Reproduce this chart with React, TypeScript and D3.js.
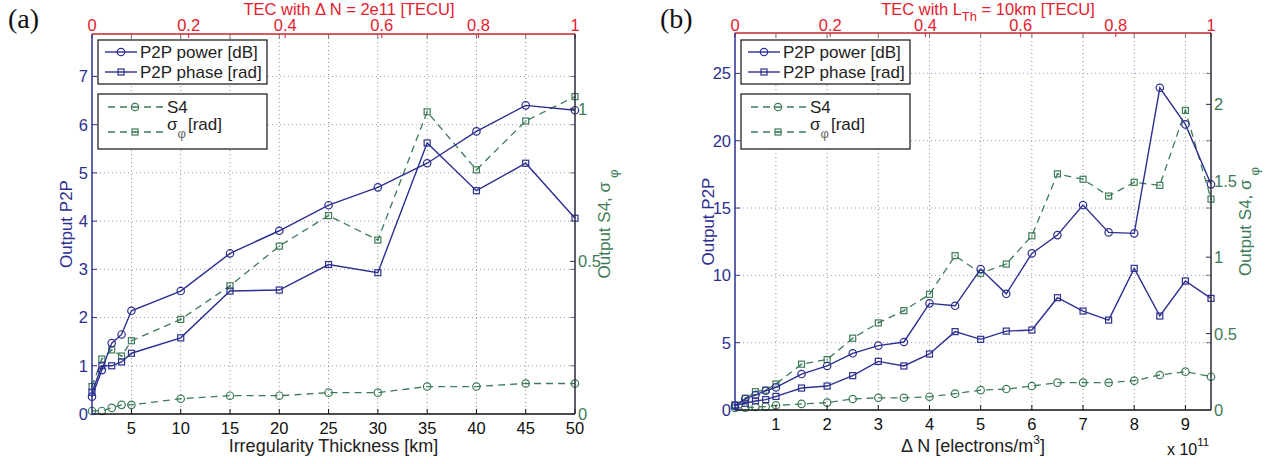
import React from 'react';
import * as d3 from 'd3';

const BLUE = '#2c2f8f';
const GREEN = '#3e7b58';
const RED = '#e5202e';
const RED_AXIS = '#c1272d';
const SANS = '"Liberation Sans", Arial, Helvetica, sans-serif';
const SERIF = '"Liberation Serif", "Times New Roman", serif';

// Panel (a): output versus irregularity thickness [km]
const thicknessKm = [1, 2, 3, 4, 5, 10, 15, 20, 25, 30, 35, 40, 45, 50];
const powerA = [0.36, 0.91, 1.47, 1.65, 2.14, 2.55, 3.33, 3.8, 4.33, 4.7, 5.2, 5.86, 6.4, 6.3];
const phaseA = [0.45, 1.0, 1.0, 1.08, 1.26, 1.58, 2.55, 2.57, 3.1, 2.93, 5.62, 4.63, 5.2, 4.06];
const s4A = [0.01, 0.01, 0.02, 0.03, 0.03, 0.05, 0.06, 0.06, 0.07, 0.07, 0.09, 0.09, 0.1, 0.1];
const sigmaA = [0.09, 0.18, 0.21, 0.19, 0.24, 0.31, 0.42, 0.55, 0.65, 0.57, 0.99, 0.8, 0.96, 1.04];
const xTicksA = [5, 10, 15, 20, 25, 30, 35, 40, 45, 50];
const yTicksA = [0, 1, 2, 3, 4, 5, 6, 7];
const y2TicksA = [0, 0.5, 1];

// Panel (b): output versus electron density perturbation [x 1e11 electrons/m^3]
const deltaN = [0.2, 0.4, 0.6, 0.8, 1, 1.5, 2, 2.5, 3, 3.5, 4, 4.5, 5, 5.5, 6, 6.5, 7, 7.5, 8, 8.5, 9, 9.5];
const powerB = [0.3, 0.82, 1.11, 1.43, 1.68, 2.67, 3.27, 4.21, 4.78, 5.05, 7.92, 7.74, 10.47, 8.63, 11.63, 12.99, 15.22, 13.19, 13.12, 23.93, 21.21, 16.76];
const phaseB = [0.37, 0.5, 0.67, 0.77, 1.01, 1.63, 1.78, 2.55, 3.61, 3.27, 4.16, 5.82, 5.25, 5.86, 5.94, 8.34, 7.35, 6.68, 10.52, 6.98, 9.58, 8.29];
const s4B = [0.013, 0.015, 0.02, 0.022, 0.03, 0.04, 0.048, 0.072, 0.08, 0.08, 0.087, 0.107, 0.13, 0.137, 0.157, 0.179, 0.179, 0.179, 0.192, 0.229, 0.251, 0.218];
const sigmaB = [0.03, 0.077, 0.12, 0.13, 0.17, 0.3, 0.33, 0.47, 0.57, 0.65, 0.757, 1.01, 0.895, 0.955, 1.14, 1.545, 1.51, 1.4, 1.49, 1.47, 1.96, 1.38];
const xTicksB = [1, 2, 3, 4, 5, 6, 7, 8, 9];
const yTicksB = [0, 5, 10, 15, 20, 25];
const y2TicksB = [0, 0.5, 1, 1.5, 2];

// Shared top (TEC) axis ticks
const tecTicks = [0, 0.2, 0.4, 0.6, 0.8, 1];

type PanelSpec = {
  tag: string;
  tagX: number;
  left: number;
  right: number;
  top: number;
  bottom: number;
  xDomain: [number, number];
  yDomain: [number, number];
  y2Domain: [number, number];
  xTicks: number[];
  yTicks: number[];
  y2Ticks: number[];
  xs: number[];
  power: number[];
  phase: number[];
  s4: number[];
  sigma: number[];
  yLabelX: number;
  y2LabelX: number;
  yLabelRightGap: number;
  topTitle: React.ReactNode;
  titleX: number;
  xTitle: React.ReactNode;
  exponent?: boolean;
};

function CircleMark({ cx, cy, color }: { cx: number; cy: number; color: string }) {
  return <circle cx={cx} cy={cy} r={3.7} fill="none" stroke={color} strokeWidth={1.2} />;
}

function SquareMark({ cx, cy, color, textured }: { cx: number; cy: number; color: string; textured?: boolean }) {
  const s = 6;
  return (
    <g>
      <rect x={cx - s / 2} y={cy - s / 2} width={s} height={s} fill="none" stroke={color} strokeWidth={1.2} />
      {textured && <rect x={cx - 1} y={cy - 1} width={2} height={2} fill={color} opacity={0.6} />}
    </g>
  );
}

function ChartPanel({ p }: { p: PanelSpec }) {
  const x = d3.scaleLinear().domain(p.xDomain).range([p.left, p.right]);
  const xTop = d3.scaleLinear().domain([0, 1]).range([p.left, p.right]);
  const y = d3.scaleLinear().domain(p.yDomain).range([p.bottom, p.top]);
  const y2 = d3.scaleLinear().domain(p.y2Domain).range([p.bottom, p.top]);

  const lineL = d3
    .line<number>()
    .x((_, i) => x(p.xs[i]))
    .y((d) => y(d));
  const lineR = d3
    .line<number>()
    .x((_, i) => x(p.xs[i]))
    .y((d) => y2(d));

  const tick = 5;
  const midY = (p.top + p.bottom) / 2;
  const L = p.left;

  return (
    <g fontFamily={SANS}>
      <text x={p.tagX} y={28} fontFamily={SERIF} fontSize={28} fill="#111">
        {p.tag}
      </text>

      {/* dotted grid */}
      {p.xTicks
        .filter((t) => x(t) > p.left + 1 && x(t) < p.right - 1)
        .map((t) => (
          <line key={'gx' + t} x1={x(t)} x2={x(t)} y1={p.top} y2={p.bottom} stroke="#8a8a8a" strokeWidth={1} strokeDasharray="1,3" />
        ))}
      {p.yTicks
        .filter((t) => y(t) < p.bottom - 1 && y(t) > p.top + 1)
        .map((t) => (
          <line key={'gy' + t} x1={p.left} x2={p.right} y1={y(t)} y2={y(t)} stroke="#9c9cd6" strokeWidth={1} strokeDasharray="1,3" />
        ))}

      {/* right-axis series */}
      <path d={lineR(p.s4) || ''} fill="none" stroke={GREEN} strokeWidth={1.3} strokeDasharray="7,5" />
      <path d={lineR(p.sigma) || ''} fill="none" stroke={GREEN} strokeWidth={1.3} strokeDasharray="7,5" />
      {p.s4.map((v, i) => (
        <CircleMark key={'s4' + i} cx={x(p.xs[i])} cy={y2(v)} color={GREEN} />
      ))}
      {p.sigma.map((v, i) => (
        <SquareMark key={'sg' + i} cx={x(p.xs[i])} cy={y2(v)} color={GREEN} textured />
      ))}

      {/* left-axis series */}
      <path d={lineL(p.power) || ''} fill="none" stroke={BLUE} strokeWidth={1.4} />
      <path d={lineL(p.phase) || ''} fill="none" stroke={BLUE} strokeWidth={1.4} />
      {p.power.map((v, i) => (
        <CircleMark key={'pw' + i} cx={x(p.xs[i])} cy={y(v)} color={BLUE} />
      ))}
      {p.phase.map((v, i) => (
        <SquareMark key={'ph' + i} cx={x(p.xs[i])} cy={y(v)} color={BLUE} />
      ))}

      {/* bottom axis */}
      <line x1={p.left} x2={p.right} y1={p.bottom} y2={p.bottom} stroke="#111" strokeWidth={1.3} />
      {p.xTicks.map((t) => (
        <g key={'bx' + t}>
          <line x1={x(t)} x2={x(t)} y1={p.bottom} y2={p.bottom - tick} stroke="#111" />
          <line x1={x(t)} x2={x(t)} y1={p.top} y2={p.top + tick} stroke="#777" />
          <text x={x(t)} y={p.bottom + 20} textAnchor="middle" fontSize={16.5} fill="#111">
            {t}
          </text>
        </g>
      ))}
      <text x={(p.left + p.right) / 2} y={452} textAnchor="middle" fontSize={18} fill="#222">
        {p.xTitle}
      </text>
      {p.exponent && (
        <text x={p.right - 44} y={455} fontSize={16} fill="#111">
          x 10
          <tspan dy={-9} fontSize={11.5}>
            11
          </tspan>
        </text>
      )}

      {/* top (TEC) axis */}
      <line x1={p.left} x2={p.right} y1={p.top} y2={p.top} stroke={RED_AXIS} strokeWidth={1.5} />
      {tecTicks.map((t) => (
        <g key={'tx' + t}>
          <line x1={xTop(t)} x2={xTop(t)} y1={p.top} y2={p.top + 4} stroke={RED} />
          <text x={xTop(t)} y={31} textAnchor="middle" fontSize={16.5} fill={RED}>
            {t}
          </text>
        </g>
      ))}
      <text x={p.titleX} y={15} textAnchor="middle" fontSize={16.5} fill={RED}>
        {p.topTitle}
      </text>

      {/* left axis */}
      <line x1={p.left} x2={p.left} y1={p.top} y2={p.bottom} stroke={BLUE} strokeWidth={1.5} />
      {p.yTicks.map((t) => (
        <g key={'ly' + t}>
          <line x1={p.left} x2={p.left + tick} y1={y(t)} y2={y(t)} stroke={BLUE} />
          <line x1={p.right} x2={p.right - tick} y1={y(t)} y2={y(t)} stroke="#777" />
          <text x={p.left - p.yLabelRightGap} y={y(t)} dy="0.36em" textAnchor="end" fontSize={16.5} fill={BLUE}>
            {t}
          </text>
        </g>
      ))}
      <text transform={`translate(${p.yLabelX},${midY}) rotate(-90)`} textAnchor="middle" fontSize={17} fill={BLUE}>
        Output P2P
      </text>

      {/* right axis */}
      <line x1={p.right} x2={p.right} y1={p.top} y2={p.bottom} stroke="#2a2a3a" strokeWidth={1.5} />
      {p.y2Ticks.map((t) => (
        <g key={'ry' + t}>
          <line x1={p.right} x2={p.right - tick} y1={y2(t)} y2={y2(t)} stroke="#2a2a3a" />
          <text x={p.right + 3} y={y2(t)} dy="0.36em" fontSize={16.5} fill={GREEN}>
            {t}
          </text>
        </g>
      ))}
      <text transform={`translate(${p.y2LabelX},${midY}) rotate(-90)`} textAnchor="middle" fontSize={17} fill={GREEN}>
        Output S4, σ
        <tspan dy={8} dx={4} fontSize={13}>
          φ
        </tspan>
      </text>

      {/* legend: left-axis series */}
      <rect x={L + 6} y={40} width={169} height={44} fill="#fff" stroke="#111" strokeWidth={1.2} />
      <line x1={L + 13} x2={L + 45} y1={52} y2={52} stroke={BLUE} strokeWidth={1.4} />
      <CircleMark cx={L + 29} cy={52} color={BLUE} />
      <text x={L + 48} y={58} fontSize={17} fill="#222">
        P2P power [dB]
      </text>
      <line x1={L + 13} x2={L + 45} y1={72} y2={72} stroke={BLUE} strokeWidth={1.4} />
      <SquareMark cx={L + 29} cy={72} color={BLUE} />
      <text x={L + 48} y={78} fontSize={17} fill="#222">
        P2P phase [rad]
      </text>

      {/* legend: right-axis series */}
      <rect x={L + 6} y={94} width={169} height={55} fill="#fff" stroke="#111" strokeWidth={1.2} />
      <line x1={L + 16} x2={L + 71} y1={107} y2={107} stroke={GREEN} strokeWidth={1.3} strokeDasharray="7,5" />
      <CircleMark cx={L + 43} cy={107} color={GREEN} />
      <text x={L + 75} y={113} fontSize={17} fill="#222">
        S4
      </text>
      <line x1={L + 16} x2={L + 71} y1={132} y2={132} stroke={GREEN} strokeWidth={1.3} strokeDasharray="7,5" />
      <SquareMark cx={L + 43} cy={132} color={GREEN} textured />
      <text x={L + 75} y={130} fontSize={17} fill="#222">
        σ
        <tspan dy={8} fontSize={13} fill="#666">
          φ
        </tspan>
        <tspan dy={-8} dx={2}>
          [rad]
        </tspan>
      </text>
    </g>
  );
}

const panelA: PanelSpec = {
  tag: '(a)',
  tagX: 8,
  left: 92,
  right: 575,
  top: 34,
  bottom: 414,
  xDomain: [1, 50],
  yDomain: [0, 7.88],
  y2Domain: [0, 1.245],
  xTicks: xTicksA,
  yTicks: yTicksA,
  y2Ticks: y2TicksA,
  xs: thicknessKm,
  power: powerA,
  phase: phaseA,
  s4: s4A,
  sigma: sigmaA,
  yLabelX: 72,
  y2LabelX: 610,
  yLabelRightGap: 4,
  titleX: 349,
  topTitle: 'TEC with Δ N = 2e11 [TECU]',
  xTitle: 'Irregularity Thickness [km]',
};

const panelB: PanelSpec = {
  tag: '(b)',
  tagX: 660,
  left: 735,
  right: 1211,
  top: 33,
  bottom: 410,
  xDomain: [0.2, 9.5],
  yDomain: [0, 28],
  y2Domain: [0, 2.467],
  xTicks: xTicksB,
  yTicks: yTicksB,
  y2Ticks: y2TicksB,
  xs: deltaN,
  power: powerB,
  phase: phaseB,
  s4: s4B,
  sigma: sigmaB,
  yLabelX: 714,
  y2LabelX: 1251,
  yLabelRightGap: 4,
  titleX: 988,
  topTitle: (
    <>
      TEC with L
      <tspan dy={6} fontSize={13}>
        Th
      </tspan>
      <tspan dy={-6}> = 10km [TECU]</tspan>
    </>
  ),
  xTitle: (
    <>
      Δ N [electrons/m
      <tspan dy={-8} fontSize={12}>
        3
      </tspan>
      <tspan dy={8}>]</tspan>
    </>
  ),
  exponent: true,
};

export default function App() {
  return (
    <svg
      width={1278}
      height={464}
      viewBox="0 0 1278 464"
      style={{ position: 'fixed', left: 0, top: 0, background: '#fff' }}
    >
      <rect width={1278} height={464} fill="#fff" />
      <ChartPanel p={panelA} />
      <ChartPanel p={panelB} />
    </svg>
  );
}
